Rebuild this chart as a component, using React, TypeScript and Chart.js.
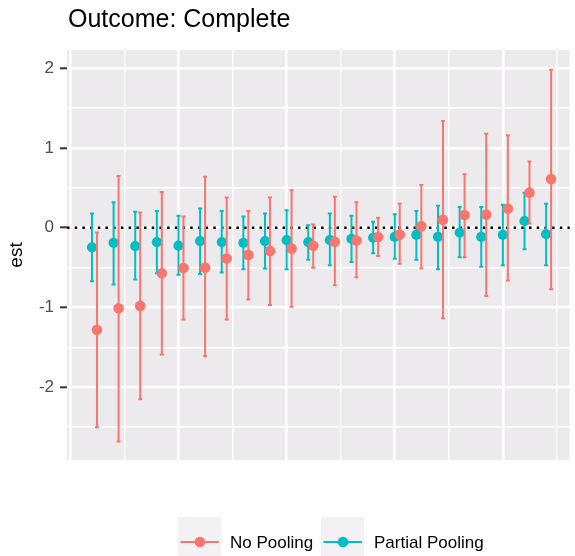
import React, { useEffect, useRef } from "react";
import { Chart, registerables } from "chart.js";

Chart.register(...registerables);

// ---- data ----
const groups = [1, 2, 3, 4, 5, 6, 7, 8, 9, 10, 11, 12, 13, 14, 15, 16, 17, 18, 19, 20, 21, 22];

const noPoolEst = [-1.28, -1.01, -0.98, -0.57, -0.505, -0.5, -0.385, -0.34, -0.29, -0.26, -0.225, -0.175, -0.16, -0.115, -0.085, 0.02, 0.1, 0.16, 0.165, 0.24, 0.44, 0.61];
const noPoolLo = [-2.5, -2.68, -2.15, -1.59, -1.15, -1.61, -1.15, -0.9, -0.97, -0.99, -0.5, -0.72, -0.62, -0.355, -0.45, -0.51, -1.135, -0.37, -0.855, -0.66, 0.055, -0.77];
const noPoolHi = [-0.06, 0.65, 0.19, 0.45, 0.14, 0.64, 0.38, 0.21, 0.38, 0.47, 0.04, 0.39, 0.32, 0.125, 0.3, 0.535, 1.34, 0.67, 1.18, 1.16, 0.83, 1.98];

const partEst = [-0.245, -0.19, -0.23, -0.18, -0.225, -0.167, -0.18, -0.19, -0.167, -0.155, -0.18, -0.155, -0.14, -0.125, -0.115, -0.09, -0.115, -0.06, -0.115, -0.09, 0.085, -0.08];
const partLo = [-0.67, -0.71, -0.65, -0.57, -0.59, -0.58, -0.56, -0.52, -0.51, -0.52, -0.4, -0.47, -0.43, -0.32, -0.39, -0.4, -0.52, -0.37, -0.49, -0.47, -0.27, -0.47];
const partHi = [0.18, 0.32, 0.2, 0.21, 0.15, 0.24, 0.21, 0.14, 0.18, 0.22, 0.03, 0.18, 0.15, 0.075, 0.17, 0.21, 0.275, 0.26, 0.26, 0.29, 0.44, 0.3];

const yTickLabels = [-2, -1, 0, 1, 2];
const yGridMinor = [-2.5, -1.5, -0.5, 0.5, 1.5];
const xGridMajor = [0, 5, 10, 15, 20];
const xGridMinor = [2.5, 7.5, 12.5, 17.5, 22.5];

const seriesNames = ["No Pooling", "Partial Pooling"];
const TITLE = "Outcome: Complete";
const Y_TITLE = "est";

const RED = "#F8766D";
const TEAL = "#00BFC4";
const DODGE = 0.23;
const FONT = "'Liberation Sans', Arial, sans-serif";

export default function App() {
  const ref = useRef<HTMLCanvasElement>(null);

  useEffect(() => {
    if (!ref.current) return;
    const bars = [
      { lo: noPoolLo, hi: noPoolHi, color: RED },
      { lo: partLo, hi: partHi, color: TEAL },
    ];

    const plugin = {
      id: "gg",
      beforeDraw(chart: any) {
        const { ctx, chartArea: a } = chart;
        ctx.save();
        ctx.fillStyle = "#FFFFFF";
        ctx.fillRect(0, 0, chart.width, chart.height);
        ctx.fillStyle = "#ECEAED";
        ctx.fillRect(a.left, a.top, a.right - a.left, a.bottom - a.top);
        ctx.restore();
      },
      beforeDatasetsDraw(chart: any) {
        const { ctx, chartArea: a } = chart;
        const y0 = chart.scales.y.getPixelForValue(0);
        ctx.save();
        ctx.strokeStyle = "#000000";
        ctx.lineWidth = 2.5;
        ctx.setLineDash([2.5, 5.2]);
        ctx.beginPath();
        ctx.moveTo(a.left, y0);
        ctx.lineTo(a.right, y0);
        ctx.stroke();
        ctx.restore();
      },
      beforeDatasetDraw(chart: any, args: any) {
        const b = bars[args.index];
        const ds = chart.data.datasets[args.index];
        const { ctx } = chart;
        const xs = chart.scales.x;
        const ys = chart.scales.y;
        ctx.save();
        ctx.strokeStyle = b.color;
        ctx.lineWidth = 2;
        ds.data.forEach((p: any, i: number) => {
          const px = xs.getPixelForValue(p.x);
          const lo = ys.getPixelForValue(b.lo[i]);
          const hi = ys.getPixelForValue(b.hi[i]);
          ctx.beginPath();
          ctx.moveTo(px, lo);
          ctx.lineTo(px, hi);
          ctx.moveTo(px - 2, lo);
          ctx.lineTo(px + 2, lo);
          ctx.moveTo(px - 2, hi);
          ctx.lineTo(px + 2, hi);
          ctx.stroke();
        });
        ctx.restore();
      },
      afterDraw(chart: any) {
        const { ctx } = chart;
        ctx.save();
        // title
        ctx.fillStyle = "#000000";
        ctx.font = `25px ${FONT}`;
        ctx.textAlign = "left";
        ctx.textBaseline = "alphabetic";
        ctx.fillText(TITLE, 68, 27);
        // y title
        ctx.save();
        ctx.translate(21.5, 255);
        ctx.rotate(-Math.PI / 2);
        ctx.textAlign = "center";
        ctx.font = `19px ${FONT}`;
        ctx.fillText(Y_TITLE, 0, 0);
        ctx.restore();
        // legend
        const keys = [
          { x: 178, color: RED, label: seriesNames[0], tx: 230 },
          { x: 321, color: TEAL, label: seriesNames[1], tx: 374 },
        ];
        keys.forEach((k) => {
          ctx.fillStyle = "#F3F1F4";
          ctx.fillRect(k.x, 517, 43, 45);
          ctx.strokeStyle = k.color;
          ctx.lineWidth = 2.2;
          ctx.beginPath();
          ctx.moveTo(k.x + 2.5, 542);
          ctx.lineTo(k.x + 41, 542);
          ctx.stroke();
          ctx.fillStyle = k.color;
          ctx.beginPath();
          ctx.arc(k.x + 22, 542, 5.3, 0, Math.PI * 2);
          ctx.fill();
          ctx.fillStyle = "#000000";
          ctx.font = `17px ${FONT}`;
          ctx.textAlign = "left";
          ctx.fillText(k.label, k.tx, 547.5);
        });
        ctx.restore();
      },
    };

    const chart = new Chart(ref.current, {
      type: "scatter",
      data: {
        datasets: [
          {
            label: seriesNames[0],
            data: groups.map((g, i) => ({ x: g + DODGE, y: noPoolEst[i] })),
            backgroundColor: RED,
            borderWidth: 0,
            pointRadius: 5.3,
          },
          {
            label: seriesNames[1],
            data: groups.map((g, i) => ({ x: g, y: partEst[i] })),
            backgroundColor: TEAL,
            borderWidth: 0,
            pointRadius: 5.1,
          },
        ],
      },
      options: {
        responsive: false,
        animation: false,
        devicePixelRatio: 1,
        layout: { padding: { top: 50, bottom: 96, left: 0, right: 0 } },
        plugins: {
          legend: { display: false },
          title: { display: false },
          tooltip: { enabled: false },
        },
        scales: {
          x: {
            type: "linear",
            min: -0.155,
            max: 23.09,
            afterBuildTicks: (s: any) => {
              s.ticks = [...xGridMajor, ...xGridMinor].sort((a, b) => a - b).map((value) => ({ value }));
            },
            afterFit: (s: any) => {
              s.height = 0;
            },
            ticks: { display: false },
            border: { display: false },
            grid: {
              color: "#FFFFFF",
              drawTicks: false,
              lineWidth: (c: any) => (c.tick && xGridMajor.includes(c.tick.value) ? 2.6 : 1.4),
            },
          },
          y: {
            type: "linear",
            min: -2.912,
            max: 2.229,
            afterBuildTicks: (s: any) => {
              s.ticks = [...yTickLabels, ...yGridMinor].sort((a, b) => a - b).map((value) => ({ value }));
            },
            afterFit: (s: any) => {
              s.width = 67;
            },
            border: { display: false },
            ticks: {
              padding: 6,
              color: "#4D4D4D",
              font: { size: 17, family: FONT },
              autoSkip: false,
              callback: (v: any) => (yTickLabels.includes(Number(v)) ? String(v) : ""),
            },
            grid: {
              color: "#FFFFFF",
              tickLength: 7,
              tickWidth: 2,
              tickColor: (c: any) => (c.tick && yTickLabels.includes(c.tick.value) ? "#333333" : "rgba(0,0,0,0)"),
              lineWidth: (c: any) => (c.tick && yTickLabels.includes(c.tick.value) ? 2.6 : 1.4),
            },
          },
        },
      },
      plugins: [plugin],
    } as any);

    return () => chart.destroy();
  }, []);

  return (
    <div style={{ position: "absolute", left: 0, top: 0, width: 575, height: 556 }}>
      <canvas ref={ref} width={575} height={556} style={{ display: "block" }} />
    </div>
  );
}
